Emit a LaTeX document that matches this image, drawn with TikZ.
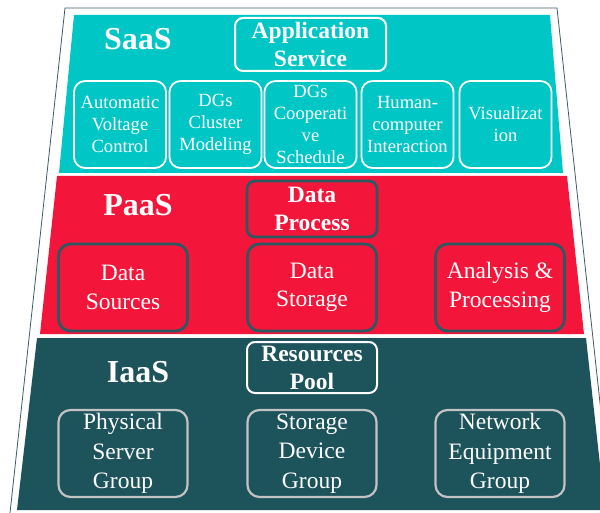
\documentclass[tikz,border=0pt]{standalone}
\usepackage{fontspec}
\setmainfont{Liberation Serif}
\usetikzlibrary{positioning}
\definecolor{saascol}{HTML}{00C6C6}
\definecolor{paascol}{HTML}{F4163A}
\definecolor{iaascol}{HTML}{1D535B}
\definecolor{edgecol}{HTML}{2C5862}
\definecolor{greycol}{HTML}{C3C3C3}
\definecolor{linecol}{HTML}{3A5C66}

\begin{document}
\begin{tikzpicture}[x=1pt, y=-1pt,
  tier/.style={text=white, font=\fontsize{32}{38}\selectfont\bfseries},
  head/.style={rectangle, rounded corners=8pt, line width=2pt, inner sep=0pt,
               text=white, align=center,
               font=\fontsize{23.5}{28}\selectfont\bfseries},
  sbox/.style={rectangle, rounded corners=11pt, draw=white, line width=1.8pt,
               inner sep=0pt, minimum width=92, minimum height=87,
               text=white, align=center, font=\fontsize{18.6}{22}\selectfont},
  pbox/.style={rectangle, rounded corners=12pt, draw=edgecol, line width=2.8pt,
               inner sep=0pt, minimum width=129, minimum height=87,
               text=white, align=center, font=\fontsize{23.5}{28.3}\selectfont},
  ibox/.style={pbox, draw=greycol, line width=2.2pt, font=\fontsize{23.5}{29.5}\selectfont}
]
\useasboundingbox (0,0) rectangle (600,513);
\clip (0,0) rectangle (600,513);
% outline
\draw[linecol, line width=0.8pt] (10,513) -- (65,8) -- (557,8) -- (612,513);
% bands
\fill[saascol] (74,15) -- (550,15) -- (563,173) -- (59,173) -- cycle;
\fill[paascol] (57,176) -- (567,176) -- (584,334) -- (40,334) -- cycle;
\fill[iaascol] (37,338) -- (586,338) -- (605,510) -- (17,510) -- cycle;

% SaaS
\node[tier] (saas) at (138,39) {SaaS};
\node[head, draw=white, minimum width=151, minimum height=53] (appsvc) at (310.5,44.5) {Application\\Service};
\node[sbox] (avc) at (120,124.5) {Automatic\\Voltage\\Control};
\node[sbox] (cluster) at (215.5,124.5) {DGs\\Cluster\\Modeling};
\node[sbox] (coop) at (310.5,124.5) {DGs\\Cooperati\\ve\\Schedule};
\node[sbox] (hci) at (407.5,124.5) {Human-\\computer\\Interaction};
\node[sbox] (vis) at (505.5,124.5) {Visualizat\\ion};

% PaaS
\node[tier] (paas) at (138,205) {PaaS};
\node[head, draw=edgecol, line width=2.8pt, minimum width=130, minimum height=56] (dataproc) at (312,209) {Data\\Process};
\node[pbox] (datasrc) at (123,287.5) {Data\\Sources};
\node[pbox] (datastore) at (312,287.5) {Data\\Storage};
\node[pbox] (analysis) at (500,287.5) {Analysis \&\\Processing};

% IaaS
\node[tier] (iaas) at (138,372) {IaaS};
\node[head, draw=white, minimum width=130, minimum height=51] (respool) at (312,367.5) {Resources\\Pool};
\node[ibox] (phys) at (123,453.5) {Physical\\Server\\Group};
\node[ibox] (storage) at (312,453.5) {Storage\\Device\\Group};
\node[ibox] (network) at (500,453.5) {Network\\Equipment\\Group};
\end{tikzpicture}
\end{document}
